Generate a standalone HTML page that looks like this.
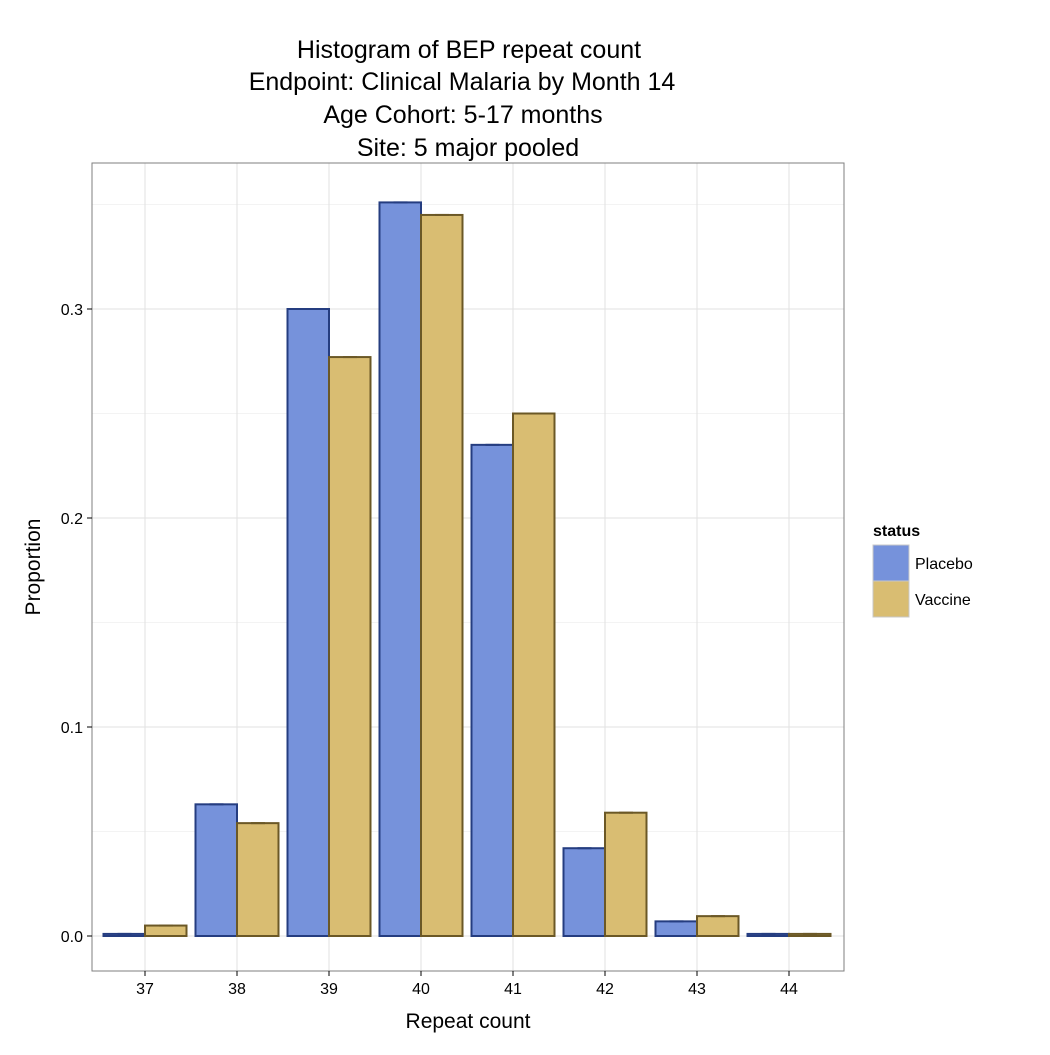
<!DOCTYPE html>
<html><head><meta charset="utf-8"><style>
body{margin:0;background:#fff;}
svg text{font-family:"Liberation Sans",sans-serif;}
</style></head><body>
<svg id="c" width="1050" height="1050" xmlns="http://www.w3.org/2000/svg">
<rect width="1050" height="1050" fill="#fff"/>
<g font-size="25" text-anchor="middle" fill="#000">
<text x="469" y="58">Histogram of BEP repeat count</text>
<text x="462" y="90">Endpoint: Clinical Malaria by Month 14</text>
<text x="463" y="123">Age Cohort: 5-17 months</text>
<text x="468" y="156">Site: 5 major pooled</text>
</g>
<g id="grid"></g>
<g id="bars"></g>
<rect x="92" y="163" width="752" height="808" fill="none" stroke="#7f7f7f" stroke-width="1"/>
<g id="axes"></g>
<text x="468" y="1028" font-size="21" text-anchor="middle">Repeat count</text>
<text transform="translate(40,567) rotate(-90)" font-size="21" text-anchor="middle">Proportion</text>
<g>
<text x="873" y="536" font-size="16" font-weight="bold">status</text>
<rect x="873" y="545" width="36" height="36" fill="#7692db" stroke="#c8c8c8"/>
<text x="915" y="569" font-size="16">Placebo</text>
<rect x="873" y="581" width="36" height="36" fill="#d9bd72" stroke="#c8c8c8"/>
<text x="915" y="605" font-size="16">Vaccine</text>
</g>
</svg>
<script>
const categories=["37","38","39","40","41","42","43","44"];
const placebo=[0.001,0.063,0.300,0.351,0.235,0.042,0.007,0.001];
const vaccine=[0.005,0.054,0.277,0.345,0.250,0.059,0.0095,0.001];
const yTicks=[0,0.1,0.2,0.3];
const yTickLabels=["0.0","0.1","0.2","0.3"];
const NS="http://www.w3.org/2000/svg";
const px0=92,px1=844,py0=163,py1=971;
const y=v=>936-v*2090;
const x=i=>145+i*92;
function mk(tag,attrs,parent){const e=document.createElementNS(NS,tag);for(const k in attrs)e.setAttribute(k,attrs[k]);parent.appendChild(e);return e;}
const grid=document.getElementById('grid'),bars=document.getElementById('bars'),axes=document.getElementById('axes');
mk('rect',{x:px0,y:py0,width:px1-px0,height:py1-py0,fill:'#fff'},grid);
for(let v=0.05;v<0.37;v+=0.1){const l=mk('line',{x1:px0,x2:px1,y1:y(v),y2:y(v),stroke:'#f3f3f3','stroke-width':1},grid);

}
yTicks.forEach((v,i)=>{const l=mk('line',{x1:px0,x2:px1,y1:y(v),y2:y(v),stroke:'#e2e2e2','stroke-width':1},grid);


const t=mk('line',{x1:px0-5,x2:px0,y1:y(v),y2:y(v),stroke:'#000'},axes);


const tx=mk('text',{x:px0-9,y:y(v)+6,'font-size':16,'text-anchor':'end'},axes);tx.textContent=yTickLabels[i];

});
categories.forEach((c,i)=>{const l=mk('line',{x1:x(i),x2:x(i),y1:py0,y2:py1,stroke:'#e2e2e2'},grid);


const t=mk('line',{x1:x(i),x2:x(i),y1:py1,y2:py1+5,stroke:'#000'},axes);


const tx=mk('text',{x:x(i),y:py1+23,'font-size':16,'text-anchor':'middle'},axes);tx.textContent=c;


[[placebo,-1,'#7692db','#253d80','placebo'],[vaccine,0,'#d9bd72','#6b5826','vaccine']].forEach(([arr,off,f,s,n])=>{
const v=arr[i],bx=x(i)+off*41.5;
const r=mk('rect',{x:bx,y:y(v),width:41.5,height:Math.max(936-y(v),0.5),fill:f,stroke:s,'stroke-width':2},bars);


const e=mk('line',{x1:bx+14,x2:bx+28,y1:y(v),y2:y(v),stroke:s,'stroke-width':2},bars);

});});
</script>
</body></html>
